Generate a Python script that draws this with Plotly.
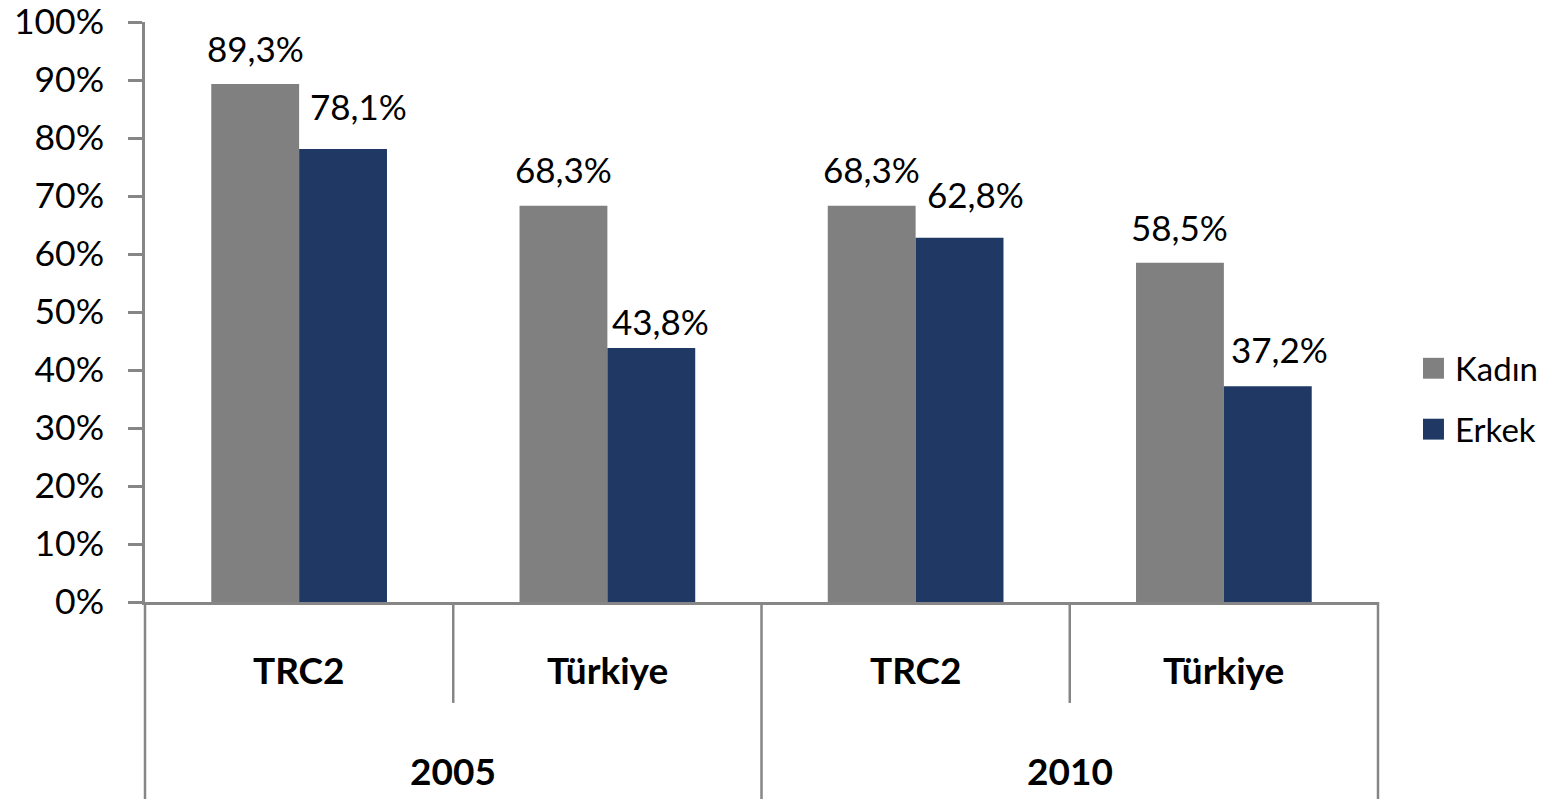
import plotly.graph_objects as go

years = ["2005", "2005", "2010", "2010"]
regions = ["TRC2", "Türkiye", "TRC2", "Türkiye"]
series_names = ["Kadın", "Erkek"]
kadin = [0.893, 0.683, 0.683, 0.585]
erkek = [0.781, 0.438, 0.628, 0.372]
yticks = [i / 10 for i in range(11)]

# label placement styling (pixel offsets of each data label, per series)
label_dx = [[0, 0, 0, 0], [15, 9, 16, 12]]
label_dy = [[13, 14, 14, 13], [20, 4, 21, 14]]

FONT = "Lato"
AXIS = "#868686"
COLORS = ["#808080", "#1F3864"]
BARGAP = 0.43
n = len(regions)
pos = list(range(n))
bar_w = (1 - BARGAP) / 2

fig = go.Figure()
for s, (name, vals, col) in enumerate(zip(series_names, [kadin, erkek], COLORS)):
    fig.add_trace(go.Bar(name=name, x=pos, y=vals, marker_color=col,
                         marker_line_width=0, showlegend=False))
    for i, v in enumerate(vals):
        xc = i + (s - 0.5) * bar_w
        fig.add_annotation(x=xc, y=v, xref="x", yref="y",
                           text=("%.1f%%" % (v * 100)).replace(".", ","),
                           xanchor="center", yanchor="bottom", showarrow=False,
                           xshift=label_dx[s][i], yshift=label_dy[s][i],
                           font=dict(size=35, family=FONT, color="black"))

# category labels (inner level)
for i, r in enumerate(regions):
    fig.add_annotation(x=i, y=-0.117, xref="x", yref="paper", text="<b>%s</b>" % r,
                       xanchor="center", yanchor="middle", showarrow=False,
                       font=dict(size=37, family=FONT, color="black"))
# outer level (years)
uniq_years = []
for y in years:
    if y not in uniq_years:
        uniq_years.append(y)
for y in uniq_years:
    idx = [i for i, v in enumerate(years) if v == y]
    fig.add_annotation(x=(idx[0] + idx[-1]) / 2, y=-0.29, xref="x", yref="paper",
                       text="<b>%s</b>" % y, xanchor="center", yanchor="middle",
                       showarrow=False, font=dict(size=37, family=FONT, color="black"))

# dividers at category boundaries
for i in range(n + 1):
    full = i == 0 or i == n or years[i] != years[i - 1]
    xb = i / n
    fig.add_shape(type="line", xref="paper", yref="paper", x0=xb, x1=xb, y0=0,
                  y1=-0.36 if full else -0.174, line=dict(color=AXIS, width=2.5))

# legend (manual, to match the square markers)
for k, (name, col) in enumerate(zip(series_names, COLORS)):
    yc = 0.403 - 0.105 * k
    fig.add_shape(type="rect", xref="paper", yref="paper", x0=1.0365, x1=1.0535,
                  y0=yc - 0.018, y1=yc + 0.018, fillcolor=col, line_width=0)
    fig.add_annotation(x=1.061, y=yc, xref="paper", yref="paper", text=name,
                       xanchor="left", yanchor="middle", showarrow=False,
                       font=dict(size=33, family=FONT, color="black"))

fig.update_layout(
    width=1554, height=799,
    margin=dict(l=145, r=176, t=22, b=197),
    plot_bgcolor="white", paper_bgcolor="white",
    separators=",.",
    barmode="group", bargap=BARGAP, bargroupgap=0,
    font=dict(family=FONT, size=33, color="black"),
    showlegend=False,
    xaxis=dict(range=[-0.5, n - 0.5], showticklabels=False, showgrid=False,
               zeroline=False, showline=True, linecolor=AXIS, linewidth=2.5, ticks="",
               automargin=False),
    yaxis=dict(range=[0, 1], tickvals=yticks, tickformat=".0%", showgrid=False,
               zeroline=False, showline=True, linecolor=AXIS, linewidth=2.5,
               ticks="outside", ticklen=14, tickcolor=AXIS, tickwidth=2.5,
               ticklabeloverflow="allow", ticklabelstandoff=17,
               tickfont=dict(size=35.5, family=FONT, color="black"), automargin=False),
)

fig.write_html("out.html", config={"displayModeBar": False},
               post_script="document.body.style.margin='0';document.body.style.overflow='hidden';")
